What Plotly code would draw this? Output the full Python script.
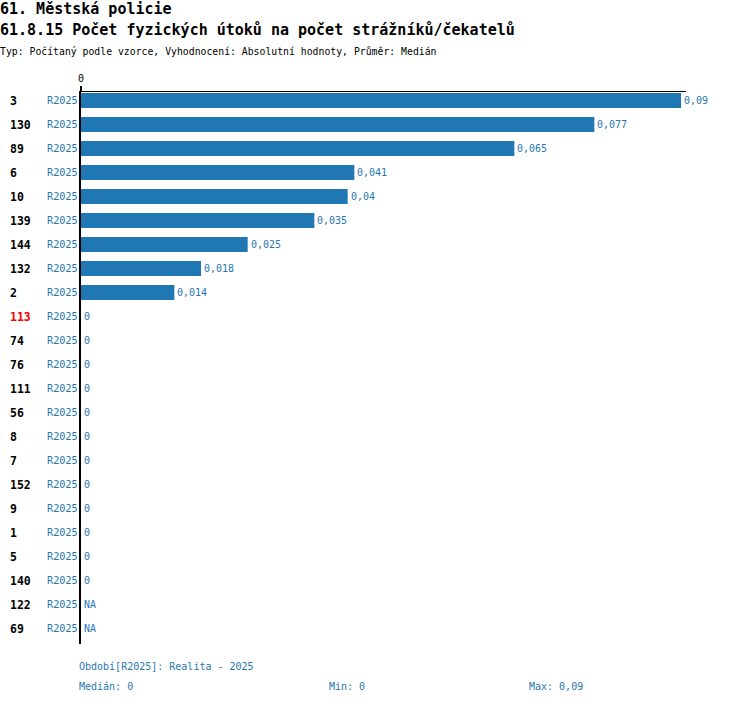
import plotly.graph_objects as go

categories = ["3", "130", "89", "6", "10", "139", "144", "132", "2", "113", "74", "76",
              "111", "56", "8", "7", "152", "9", "1", "5", "140", "122", "69"]
values = [0.09, 0.077, 0.065, 0.041, 0.04, 0.035, 0.025, 0.018, 0.014, 0, 0, 0,
          0, 0, 0, 0, 0, 0, 0, 0, 0, None, None]
period = "R2025"
highlight = "113"

title1 = "61. Městská policie"
title2 = "61.8.15 Počet fyzických útoků na počet strážníků/čekatelů"
subtitle = "Typ: Počítaný podle vzorce, Vyhodnocení: Absolutní hodnoty, Průměr: Medián"
footer_period = "Období[R2025]: Realita - 2025"
footer_median = "Medián: 0"
footer_min = "Min: 0"
footer_max = "Max: 0,09"

FONT = "DejaVu Sans Mono"
BLUE = "#1f77b4"
W, H = 750, 704
ML, MR, MT, MB = 81, 64, 92, 60
PW = W - ML - MR
PH = H - MT - MB


def fmt(v):
    if v is None:
        return "NA"
    if v == 0:
        return "0"
    return str(v).replace(".", ",")


idx = list(range(len(categories)))

fig = go.Figure()
fig.add_trace(go.Bar(
    y=idx,
    x=[v if v is not None else 0 for v in values],
    orientation="h",
    marker=dict(color=BLUE, line=dict(width=0)),
    width=0.625,
    hoverinfo="skip",
))

NOPAD = dict(showarrow=False, borderpad=0, borderwidth=0, xanchor="left", yanchor="middle")

ann = []
for i, c, v in zip(idx, categories, values):
    ann.append(dict(x=(v or 0), y=i, xref="x", yref="y", text=fmt(v), xshift=3,
                    font=dict(family=FONT, size=10, color=BLUE), **NOPAD))
    ann.append(dict(x=(10 - ML) / PW, y=i, xref="paper", yref="y", text="<b>%s</b>" % c,
                    font=dict(family=FONT, size=11.5, color="red" if c == highlight else "black"),
                    **NOPAD))
    ann.append(dict(x=(47 - ML) / PW, y=i, xref="paper", yref="y", text=period,
                    font=dict(family=FONT, size=10.2, color=BLUE), **NOPAD))


def pab(x, y, text, size, color, bold=False):
    # page-pixel position converted to plot-paper coords
    return dict(x=(x - ML) / PW, y=(H - MB - y) / PH, xref="paper", yref="paper",
                text=("<b>%s</b>" % text) if bold else text,
                font=dict(family=FONT, size=size, color=color), **NOPAD)


ann += [
    pab(0, 9, title1, 15, "black", True),
    pab(0, 30, title2, 15, "black", True),
    pab(0, 51, subtitle, 9.8, "black"),
    pab(79, 666, footer_period, 10, BLUE),
    pab(79, 686, footer_median, 10, BLUE),
    pab(329, 686, footer_min, 10, BLUE),
    pab(529, 686, footer_max, 10, BLUE),
]

n = len(categories)
fig.update_layout(
    width=W, height=H,
    margin=dict(l=ML, r=MR, t=MT, b=MB, pad=0),
    plot_bgcolor="white", paper_bgcolor="white",
    showlegend=False,
    annotations=ann,
    xaxis=dict(side="top", range=[0, 0.09 * PW / 600], tickvals=[0], ticktext=["0"],
               ticks="outside", ticklen=5, tickwidth=2, tickcolor="black",
               showline=True, linecolor="black", linewidth=1,
               showgrid=False, zeroline=False,
               tickfont=dict(family=FONT, size=10, color="black")),
    yaxis=dict(range=[n - 1 + 0.646, -0.354], showticklabels=False,
               ticks="", showline=True, linecolor="black", linewidth=2,
               showgrid=False, zeroline=False),
)

fig.write_html("out.html", config={"displayModeBar": False},
               post_script="document.body.style.margin='0';document.body.style.overflow='hidden';")
